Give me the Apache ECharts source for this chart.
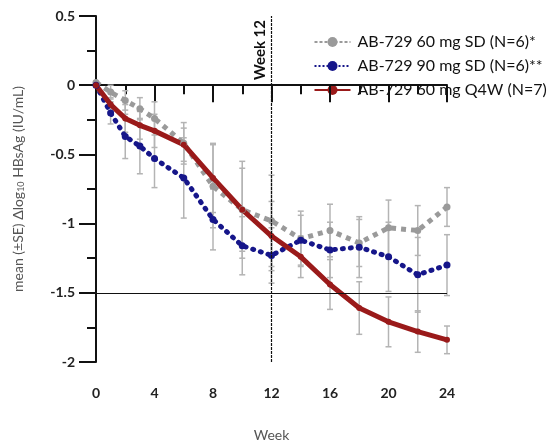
<!DOCTYPE html>
<html>
<head>
<meta charset="utf-8">
<script src="https://cdn.jsdelivr.net/npm/echarts@6/dist/echarts.min.js"></script>
<style>
  html, body { margin: 0; padding: 0; background: #fff; }
  #main { width: 559px; height: 447px; }
</style>
</head>
<body>
<div id="main"></div>
<script>
// 周数
const weeks = [0, 1, 2, 3, 4, 6, 8, 10, 12, 14, 16, 18, 20, 22, 24]

// 各组均值
const sd60 = [0.02, -0.05, -0.11, -0.17, -0.24, -0.42, -0.73, -0.9, -0.98, -1.11, -1.05, -1.14, -1.03, -1.05, -0.88]
const sd90 = [0, -0.2, -0.37, -0.44, -0.53, -0.67, -0.97, -1.16, -1.23, -1.12, -1.19, -1.17, -1.24, -1.37, -1.3]
const q4w60 = [0, -0.14, -0.24, -0.29, -0.33, -0.43, -0.67, -0.9, -1.09, -1.24, -1.44, -1.61, -1.71, -1.78, -1.84]

// 标准误
const sd60Se = [0, 0.05, 0.07, 0.08, 0.12, 0.15, 0.3, 0.35, 0.33, 0.2, 0.19, 0.17, 0.2, 0.18, 0.14]
const sd90Se = [0, 0.08, 0.16, 0.2, 0.21, 0.29, 0.22, 0.21, 0.2, 0.18, 0.2, 0.22, 0.25, 0.27, 0.22]
const q4w60Se = [0, 0.05, 0.1, 0.1, 0.12, 0.12, 0.25, 0.3, 0.25, 0.15, 0.18, 0.19, 0.18, 0.15, 0.1]

const yTicks = [-2, -1.5, -1, -0.5, 0, 0.5]
const xLabelWeeks = [0, 4, 8, 12, 16, 20, 24]

const names = ['AB-729 60 mg SD (N=6)*', 'AB-729 90 mg SD (N=6)**', 'AB-729 60 mg Q4W (N=7)']
const colors = ['#9a9a9a', '#16168a', '#9a1a1a']
const legendDash = [[3, 2], [2, 2], null]

const pairs = (ys) => weeks.map((w, i) => [w, ys[i]])
const errData = (ys, se) => weeks.map((w, i) => [w, ys[i] - se[i], ys[i] + se[i]])

const errorBars = function(data) {
    return {
        type: 'custom',
        silent: true,
        z: 1,
        renderItem: function(params, api) {
            let x = api.value(0)
            let lo = api.coord([x, api.value(1)])
            let hi = api.coord([x, api.value(2)])
            let c = 3
            let style = { stroke: '#b4b4b4', lineWidth: 1.5 }
            return {
                type: 'group',
                children: [
                    { type: 'line', shape: { x1: lo[0], y1: lo[1], x2: hi[0], y2: hi[1] }, style: style },
                    { type: 'line', shape: { x1: lo[0] - c, y1: lo[1], x2: lo[0] + c, y2: lo[1] }, style: style },
                    { type: 'line', shape: { x1: hi[0] - c, y1: hi[1], x2: hi[0] + c, y2: hi[1] }, style: style },
                ]
            }
        },
        encode: { x: 0, y: [1, 2] },
        data: data
    }
}

// 自己画图例，白底盖在最上层
const legendItems = names.map((name, i) => {
    return {
        type: 'group',
        x: 0,
        y: i * 24,
        children: [
            { type: 'line', shape: { x1: 0, y1: 7, x2: 36, y2: 7 }, style: { stroke: colors[i], lineWidth: 2, lineDash: legendDash[i] } },
            { type: 'circle', shape: { cx: 18, cy: 7, r: 5 }, style: { fill: colors[i] } },
            { type: 'text', x: 43, y: 7, style: { text: name, font: '16px Lato', fill: '#111', verticalAlign: 'middle' } }
        ]
    }
})

const legendBox = {
    type: 'group',
    left: 312,
    top: 29,
    z: 100,
    children: [
        { type: 'rect', shape: { x: 0, y: 0, width: 232, height: 72 }, style: { fill: '#fff' } },
        { type: 'group', x: 2, y: 6, children: legendItems }
    ]
}

let myChart = echarts.init(document.querySelector('#main'))

let option = {
    animation: false,
    textStyle: { fontFamily: 'Lato' },
    grid: { left: 96, right: 112, top: 16, bottom: 81 },
    graphic: [legendBox],
    xAxis: {
        type: 'value',
        min: 0,
        max: 24,
        interval: 4,
        name: 'Week',
        nameLocation: 'middle',
        nameGap: 66,
        nameTextStyle: { fontSize: 14, color: '#555' },
        axisLine: { lineStyle: { color: '#111', width: 2 } },
        axisTick: { length: 17, lineStyle: { color: '#111', width: 2 } },
        minorTick: { show: true, splitNumber: 2, length: 9, lineStyle: { color: '#111', width: 2 } },
        axisLabel: {
            margin: 24,
            fontSize: 14,
            fontWeight: 'bold',
            color: '#222',
            formatter: (v) => xLabelWeeks.includes(v) ? String(v) : ''
        },
        splitLine: { show: false }
    },
    yAxis: {
        type: 'value',
        min: -2,
        max: 0.5,
        interval: 0.5,
        name: 'mean (±SE) Δlog{sub|10} HBsAg (IU/mL)',
        nameLocation: 'middle',
        nameGap: 70,
        nameTextStyle: {
            fontSize: 14,
            color: '#555',
            rich: { sub: { fontSize: 9, color: '#555', verticalAlign: 'bottom', padding: [6, 0, 0, 0] } }
        },
        axisLine: { show: true, lineStyle: { color: '#111', width: 2 } },
        axisTick: { show: true, length: 17, lineStyle: { color: '#111', width: 2 } },
        minorTick: { show: true, splitNumber: 2, length: 9, lineStyle: { color: '#111', width: 2 } },
        axisLabel: {
            margin: 21,
            fontSize: 14,
            fontWeight: 'bold',
            color: '#222',
            formatter: (v) => yTicks.includes(v) ? String(v) : ''
        },
        splitLine: { show: false }
    },
    series: [
        errorBars(errData(sd60, sd60Se)),
        errorBars(errData(sd90, sd90Se)),
        errorBars(errData(q4w60, q4w60Se)),
        {
            name: names[0],
            type: 'line',
            data: pairs(sd60),
            symbol: 'circle',
            symbolSize: 7,
            itemStyle: { color: colors[0] },
            lineStyle: { color: colors[0], width: 5, type: [5, 5] },
            markLine: {
                silent: true,
                symbol: 'none',
                data: [
                    {
                        xAxis: 12,
                        lineStyle: { color: '#111', width: 1.2, type: [3, 1] },
                        label: {
                            show: true,
                            formatter: 'Week 12',
                            position: 'insideEndTop',
                            fontSize: 15,
                            fontWeight: 'bold',
                            color: '#111',
                            distance: 4
                        }
                    },
                    {
                        yAxis: -1.5,
                        lineStyle: { color: '#111', width: 1.2, type: 'solid' },
                        label: { show: false }
                    }
                ]
            }
        },
        {
            name: names[1],
            type: 'line',
            data: pairs(sd90),
            symbol: 'circle',
            symbolSize: 7,
            itemStyle: { color: colors[1] },
            lineStyle: { color: colors[1], width: 5, type: [1, 7], cap: 'round' }
        },
        {
            name: names[2],
            type: 'line',
            data: pairs(q4w60),
            symbol: 'circle',
            symbolSize: 6,
            itemStyle: { color: colors[2] },
            lineStyle: { color: colors[2], width: 5 }
        }
    ]
}

myChart.setOption(option)
</script>
</body>
</html>
